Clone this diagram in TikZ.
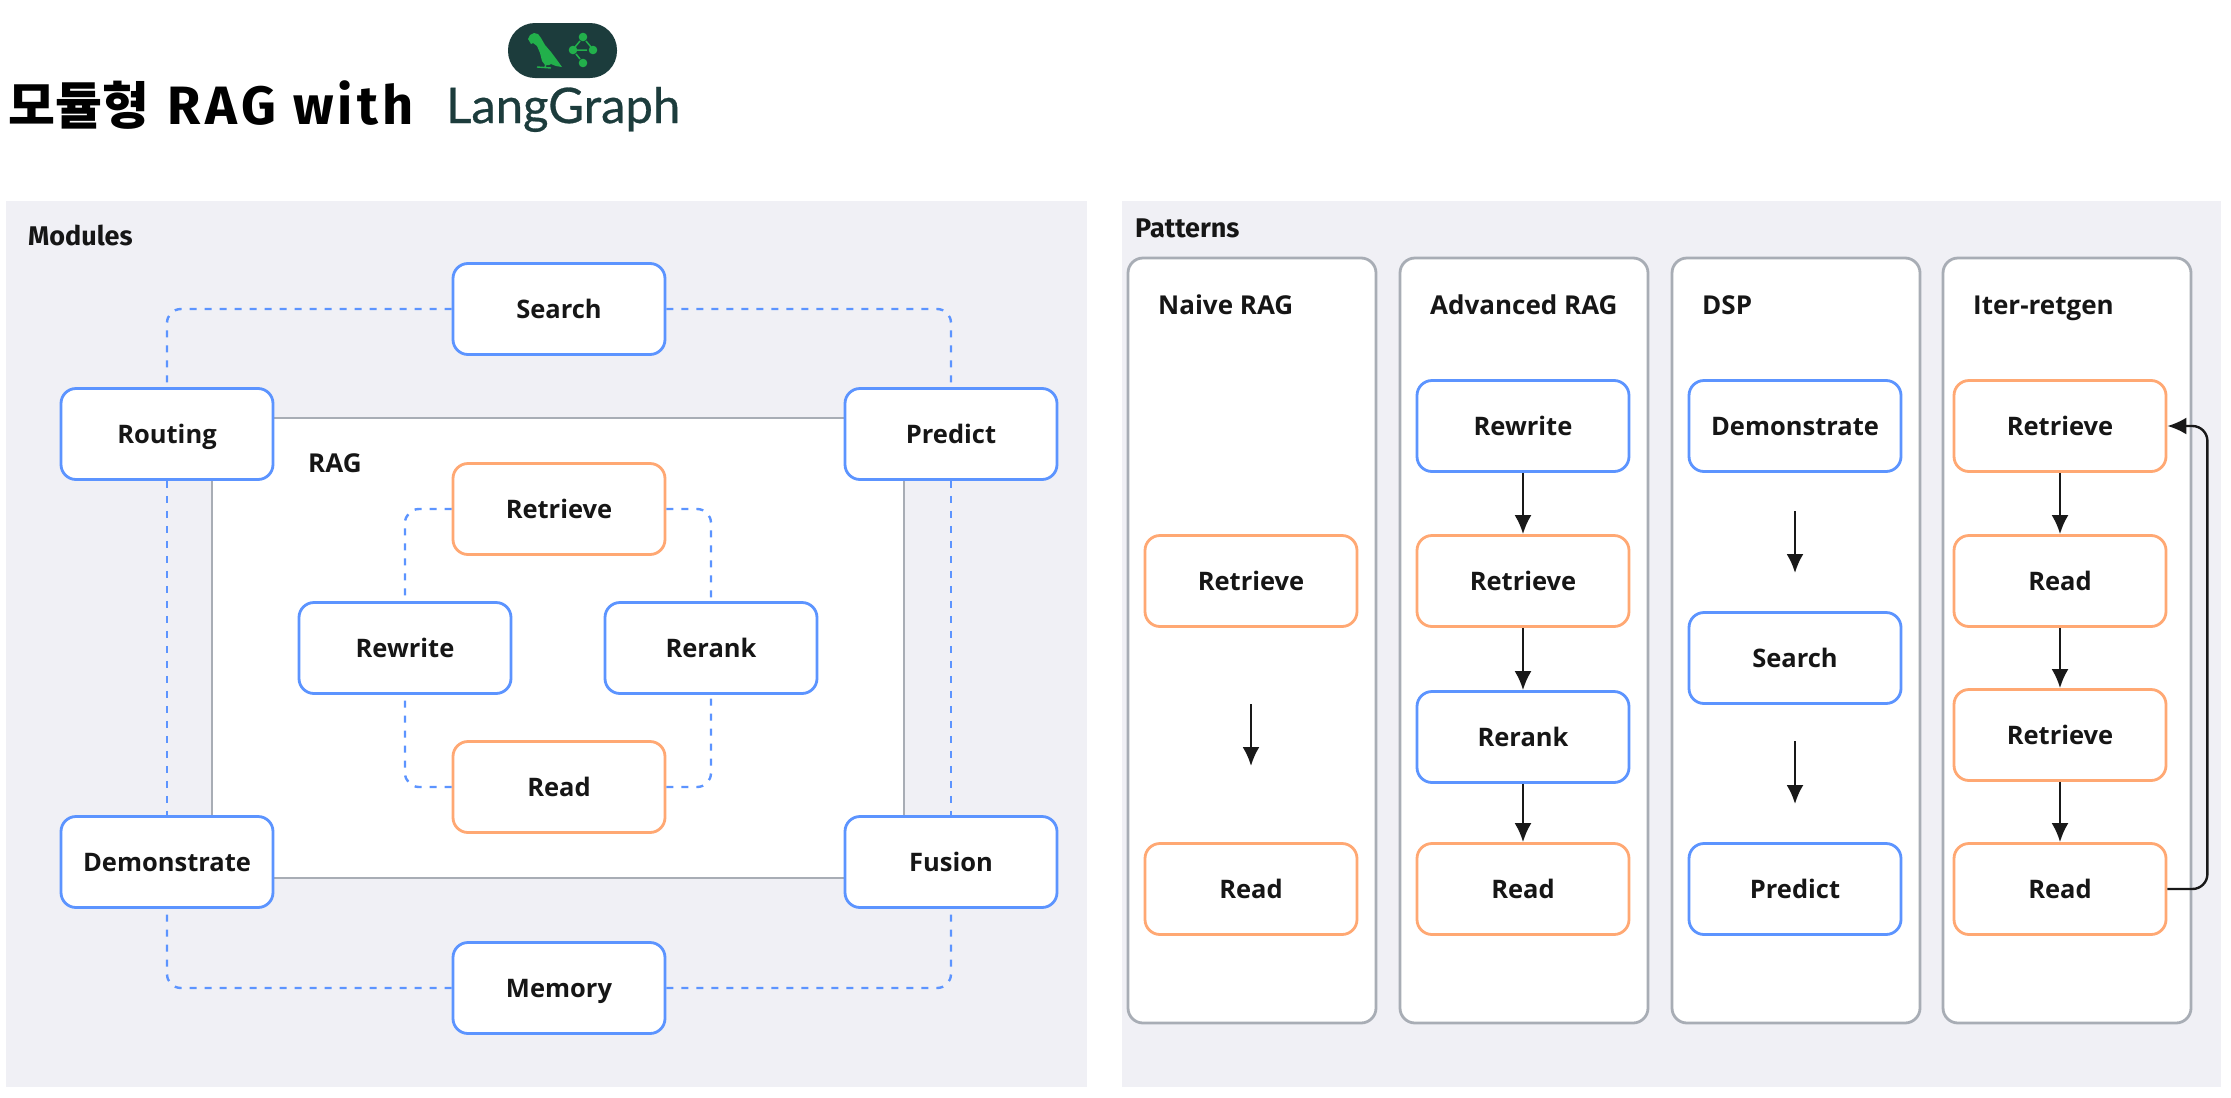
\documentclass[tikz,border=0pt]{standalone}
\usepackage{fontspec}
\setmainfont{Open Sans}
\newfontfamily\titlefont[LetterSpace=8]{Fira Sans}
\newfontfamily\headfont{Fira Sans}
\newfontfamily\korfont{Noto Sans CJK KR}
\newfontfamily\logofont[FakeBold=0.6]{Lato}
\usetikzlibrary{arrows.meta}
\definecolor{panelbg}{HTML}{F0F0F5}
\definecolor{modblue}{HTML}{5C94FF}
\definecolor{retorange}{HTML}{FFA873}
\definecolor{framegray}{HTML}{A8ADB5}
\definecolor{logodark}{HTML}{1C3C3C}
\definecolor{logogreen}{HTML}{22B04B}
\definecolor{textdark}{HTML}{161616}
\tikzset{
  modbox/.style={draw=modblue, line width=2.8pt, fill=white, rounded corners=15pt, minimum width=212pt, minimum height=91pt, inner sep=0pt, text height=19pt, text depth=0pt, font=\fontsize{25.5}{30}\selectfont\bfseries, text=textdark},
  retbox/.style={modbox, draw=retorange},
  dashlink/.style={draw=modblue, line width=2.4pt, dash pattern=on 7pt off 8pt, rounded corners=14pt},
  flow/.style={draw=black!90, line width=2.4pt, -{Latex[length=19pt,width=17pt]}},
  lane/.style={draw=framegray, line width=2.8pt, fill=white, rounded corners=15pt},
  lanetitle/.style={anchor=west, font=\fontsize{26}{30}\selectfont\bfseries, text=textdark, inner sep=0pt, text height=19pt, text depth=0pt},
  paneltitle/.style={anchor=west, inner sep=0pt, font=\headfont\fontsize{27}{30}\selectfont\bfseries, text=textdark},
}
\begin{document}
\begin{tikzpicture}[x=1pt,y=-1pt]
    \useasboundingbox (0,0) rectangle (2231,1098);

    % title and logo
    \node[anchor=base west, inner sep=0pt, font=\fontsize{54}{60}\selectfont\bfseries] (title) at (8,124) {{\korfont\fontsize{51}{60}\selectfont 모듈형}\hspace{19pt}{\titlefont RAG with}};
    \fill[logodark, rounded corners=27pt] (508,23) rectangle (617,78);
    \fill[logogreen] (528,39) -- (530,35) -- (534,33) -- (538,34) -- (541,38) -- (545,45) -- (551,52) -- (557,60) -- (562,67) -- (556,66) -- (551,64) -- (549,65) -- (545,65) -- (542,61) -- (540,53) -- (537,46) -- (533,43) -- (531,44) -- cycle;
    \draw[logogreen, line width=1.4pt] (537,67) -- (551,68) (546,64) -- (545,67);
    \foreach \x/\y in {583/37, 573/50, 593/50, 583/63}
        \fill[logogreen] (\x,\y) circle (4.3pt);
    \draw[logogreen, line width=1.5pt] (580,41) -- (575,47) (586,41) -- (591,47) (573,50) -- (587,50) (576,54) -- (580,59);
    \node[anchor=base west, inner sep=0pt, text=logodark, font=\logofont\fontsize{49}{54}\selectfont] (logotext) at (446,123) {LangGraph};

    % modules
    \fill[panelbg] (6,201) rectangle (1087,1087);
    \node[paneltitle] (modules) at (28,235) {Modules};
    \draw[draw=framegray, line width=2.8pt, fill=white] (212,418) rectangle (904,878);
    \node[lanetitle] (rag) at (308,463) {RAG};

    \node[modbox] (search) at (559,309) {Search};
    \node[modbox] (routing) at (167,434) {Routing};
    \node[modbox] (predict) at (951,434) {Predict};
    \node[modbox] (demo) at (167,862) {Demonstrate};
    \node[modbox] (fusion) at (951,862) {Fusion};
    \node[modbox] (memory) at (559,988) {Memory};
    \node[retbox] (retrieve) at (559,509) {Retrieve};
    \node[modbox] (rewrite) at (405,648) {Rewrite};
    \node[modbox] (rerank) at (711,648) {Rerank};
    \node[retbox] (read) at (559,787) {Read};

    \draw[dashlink] (search.west) -| (routing.north);
    \draw[dashlink] (search.east) -| (predict.north);
    \draw[dashlink] (memory.west) -| (demo.south);
    \draw[dashlink] (memory.east) -| (fusion.south);
    \draw[dashlink] (routing.south) -- (demo.north);
    \draw[dashlink] (predict.south) -- (fusion.north);
    \draw[dashlink] (retrieve.west) -| (rewrite.north);
    \draw[dashlink] (retrieve.east) -| (rerank.north);
    \draw[dashlink] (read.west) -| (rewrite.south);
    \draw[dashlink] (read.east) -| (rerank.south);

    % patterns
    \fill[panelbg] (1122,201) rectangle (2221,1087);
    \node[paneltitle] (patterns) at (1135,228) {Patterns};
    \foreach \x in {1128,1400,1672,1943}
        \draw[lane] (\x,258) rectangle ++(248,765);
    \node[lanetitle] (naivetitle) at (1158,305) {Naive RAG};
    \node[lanetitle] (advtitle) at (1430,305) {Advanced RAG};
    \node[lanetitle] (dsptitle) at (1702,305) {DSP};
    \node[lanetitle] (itertitle) at (1973,305) {Iter-retgen};

    \node[retbox] (naiveretrieve) at (1251,581) {Retrieve};
    \node[retbox] (naiveread) at (1251,889) {Read};
    \coordinate (naivefrom) at (1251,704);
    \coordinate (naiveto) at (1251,766);
    \draw[flow] (naivefrom) -- (naiveto);

    \node[modbox] (advrewrite) at (1523,426) {Rewrite};
    \node[retbox] (advretrieve) at (1523,581) {Retrieve};
    \node[modbox] (advrerank) at (1523,737) {Rerank};
    \node[retbox] (advread) at (1523,889) {Read};
    \draw[flow] (advrewrite) -- (advretrieve);
    \draw[flow] (advretrieve) -- (advrerank);
    \draw[flow] (advrerank) -- (advread);

    \node[modbox] (dspdemo) at (1795,426) {Demonstrate};
    \node[modbox] (dspsearch) at (1795,658) {Search};
    \node[modbox] (dsppredict) at (1795,889) {Predict};
    \coordinate (dspfroma) at (1795,511);
    \coordinate (dsptoa) at (1795,573);
    \coordinate (dspfromb) at (1795,741);
    \coordinate (dsptob) at (1795,804);
    \draw[flow] (dspfroma) -- (dsptoa);
    \draw[flow] (dspfromb) -- (dsptob);

    \node[retbox] (iterretrieve) at (2060,426) {Retrieve};
    \node[retbox] (iterread) at (2060,581) {Read};
    \node[retbox] (iterretrievetwo) at (2060,735) {Retrieve};
    \node[retbox] (iterreadtwo) at (2060,889) {Read};
    \draw[flow] (iterretrieve) -- (iterread);
    \draw[flow] (iterread) -- (iterretrievetwo);
    \draw[flow] (iterretrievetwo) -- (iterreadtwo);
    \draw[flow, rounded corners=15pt] (iterreadtwo.east) -- ++(40,0) |- (iterretrieve.east);
\end{tikzpicture}
\end{document}
